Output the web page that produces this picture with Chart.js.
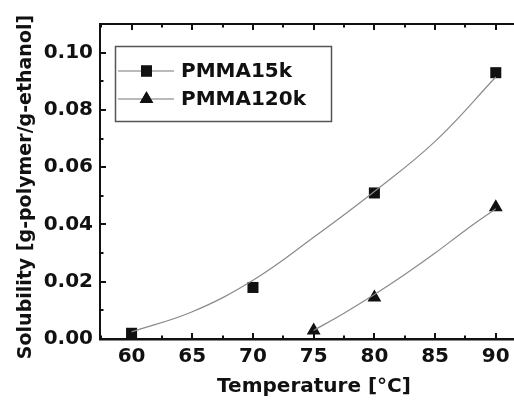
<!DOCTYPE html>
<html>
<head>
<meta charset="utf-8">
<script src="https://cdn.jsdelivr.net/npm/chart.js@4/dist/chart.umd.min.js"></script>
<style>
  html, body { margin: 0; padding: 0; background: #fff; }
  #wrap { width: 514px; height: 400px; }
</style>
</head>
<body>
<div id="wrap"><canvas id="c" width="514" height="400"></canvas></div>
<script>
// ---- data ----
const seriesNames = ['PMMA15k', 'PMMA120k'];
const temp15k = [60, 70, 80, 90];
const sol15k = [0.002, 0.018, 0.051, 0.093];
const temp120k = [75, 80, 90];
const sol120k = [0.003, 0.0145, 0.046];
// fitted curves
const fitTemp15k = [60, 65, 70, 75, 80, 85, 90];
const fitSol15k = [0.0025, 0.0095, 0.0205, 0.0355, 0.0515, 0.069, 0.0915];
const fitTemp120k = [75, 77.5, 80, 82.5, 85, 87.5, 90];
const fitSol120k = [0.003, 0.009, 0.0155, 0.0225, 0.030, 0.038, 0.0455];
// ticks and titles
const xTicks = [60, 65, 70, 75, 80, 85, 90];
const xMinorTicks = [57.5, 62.5, 67.5, 72.5, 77.5, 82.5, 87.5];
const yTicks = [0.00, 0.02, 0.04, 0.06, 0.08, 0.10];
const yMinorTicks = [0.01, 0.03, 0.05, 0.07, 0.09];
const xTitle = 'Temperature [°C]';
const yTitle = 'Solubility [g-polymer/g-ethanol]';

const pts = (xs, ys) => xs.map((x, i) => ({x: x, y: ys[i]}));
const FONT = "'DejaVu Sans', sans-serif";

const tickPlugin = {
  id: 'inTicks',
  afterDraw(chart) {
    const ctx = chart.ctx, a = chart.chartArea;
    const xs = chart.scales.x, ys = chart.scales.y;
    ctx.save();
    ctx.strokeStyle = '#111';
    ctx.lineWidth = 2;
    ctx.beginPath();
    ctx.moveTo(a.left - 1, a.top); ctx.lineTo(a.right, a.top);
    ctx.stroke();
    const vt = (v, len) => {
      const px = Math.round(xs.getPixelForValue(v));
      if (px < a.left + 1 || px > a.right) return;
      ctx.beginPath(); ctx.moveTo(px, a.bottom); ctx.lineTo(px, a.bottom - len); ctx.stroke();
      ctx.beginPath(); ctx.moveTo(px, a.top); ctx.lineTo(px, a.top + len); ctx.stroke();
    };
    xTicks.forEach(v => vt(v, 6));
    xMinorTicks.forEach(v => vt(v, 3.5));
    const ht = (v, len) => {
      const py = Math.round(ys.getPixelForValue(v));
      ctx.beginPath(); ctx.moveTo(a.left, py); ctx.lineTo(a.left + len, py); ctx.stroke();
    };
    yTicks.forEach(v => ht(v, 6));
    yMinorTicks.forEach(v => ht(v, 3.5));
    // axis titles
    ctx.fillStyle = '#111';
    ctx.font = 'bold 20px ' + FONT;
    ctx.textAlign = 'center';
    ctx.textBaseline = 'alphabetic';
    ctx.fillText(xTitle, 314, 392);
    ctx.save();
    ctx.translate(31, 187);
    ctx.rotate(-Math.PI / 2);
    ctx.font = 'bold 19px ' + FONT;
    ctx.fillText(yTitle, 0, 0);
    ctx.restore();
    ctx.restore();
  }
};

const legendPlugin = {
  id: 'boxLegend',
  afterDraw(chart) {
    const ctx = chart.ctx;
    ctx.save();
    ctx.strokeStyle = '#555';
    ctx.lineWidth = 1.5;
    ctx.strokeRect(115.5, 46.5, 216, 75);
    const rows = [71, 99];
    const styles = ['rect', 'triangle'];
    rows.forEach((y, i) => {
      ctx.strokeStyle = '#777';
      ctx.lineWidth = 1.2;
      ctx.beginPath(); ctx.moveTo(118, y); ctx.lineTo(174, y); ctx.stroke();
      Chart.helpers.drawPoint(ctx, {pointStyle: styles[i], radius: 7.8, borderWidth: 0}, 146.5, y);
      ctx.fillStyle = '#111';
      ctx.fill();
      ctx.font = 'bold 20px ' + FONT;
      ctx.textBaseline = 'middle';
      ctx.textAlign = 'left';
      ctx.fillText(seriesNames[i], 181, y + 1);
    });
    ctx.restore();
  }
};

new Chart(document.getElementById('c'), {
  type: 'scatter',
  data: {
    datasets: [
      { label: seriesNames[0] + ' fit', data: pts(fitTemp15k, fitSol15k), showLine: true,
        borderColor: '#8a8a8a', borderWidth: 1.2, pointRadius: 0, tension: 0.4, fill: false },
      { label: seriesNames[1] + ' fit', data: pts(fitTemp120k, fitSol120k), showLine: true,
        borderColor: '#8a8a8a', borderWidth: 1.2, pointRadius: 0, tension: 0.4, fill: false },
      { label: seriesNames[0], data: pts(temp15k, sol15k), showLine: false, pointStyle: 'rect',
        pointRadius: 7.8, backgroundColor: '#111', borderColor: '#111', borderWidth: 0 },
      { label: seriesNames[1], data: pts(temp120k, sol120k), showLine: false, pointStyle: 'triangle',
        pointRadius: 8, backgroundColor: '#111', borderColor: '#111', borderWidth: 0 }
    ]
  },
  options: {
    responsive: false,
    animation: false,
    events: [],
    layout: { autoPadding: false, padding: { top: 24, right: 0, left: 0, bottom: 0 } },
    plugins: { legend: { display: false }, tooltip: { enabled: false } },
    scales: {
      x: {
        type: 'linear', min: 57.4, max: 91.5,
        afterBuildTicks: s => { s.ticks = xTicks.map(v => ({value: v})); },
        afterFit: s => { s.height = 61; s.paddingLeft = 0; s.paddingRight = 0; },
        grid: { display: false, drawTicks: false },
        border: { display: true, color: '#111', width: 2.5 },
        ticks: { color: '#111', padding: 6, maxRotation: 0, autoSkip: false,
                 font: { family: FONT, size: 20, weight: 'bold' } },
        title: { display: false }
      },
      y: {
        type: 'linear', min: 0, max: 0.11,
        afterBuildTicks: s => { s.ticks = yTicks.map(v => ({value: v})); },
        afterFit: s => { s.width = 100; s.paddingTop = 0; s.paddingBottom = 0; },
        grid: { display: false, drawTicks: false },
        border: { display: true, color: '#111', width: 2 },
        ticks: { color: '#111', padding: 7, autoSkip: false,
                 callback: v => Number(v).toFixed(2),
                 font: { family: FONT, size: 20, weight: 'bold' } },
        title: { display: false }
      }
    }
  },
  plugins: [tickPlugin, legendPlugin]
});
</script>
</body>
</html>
